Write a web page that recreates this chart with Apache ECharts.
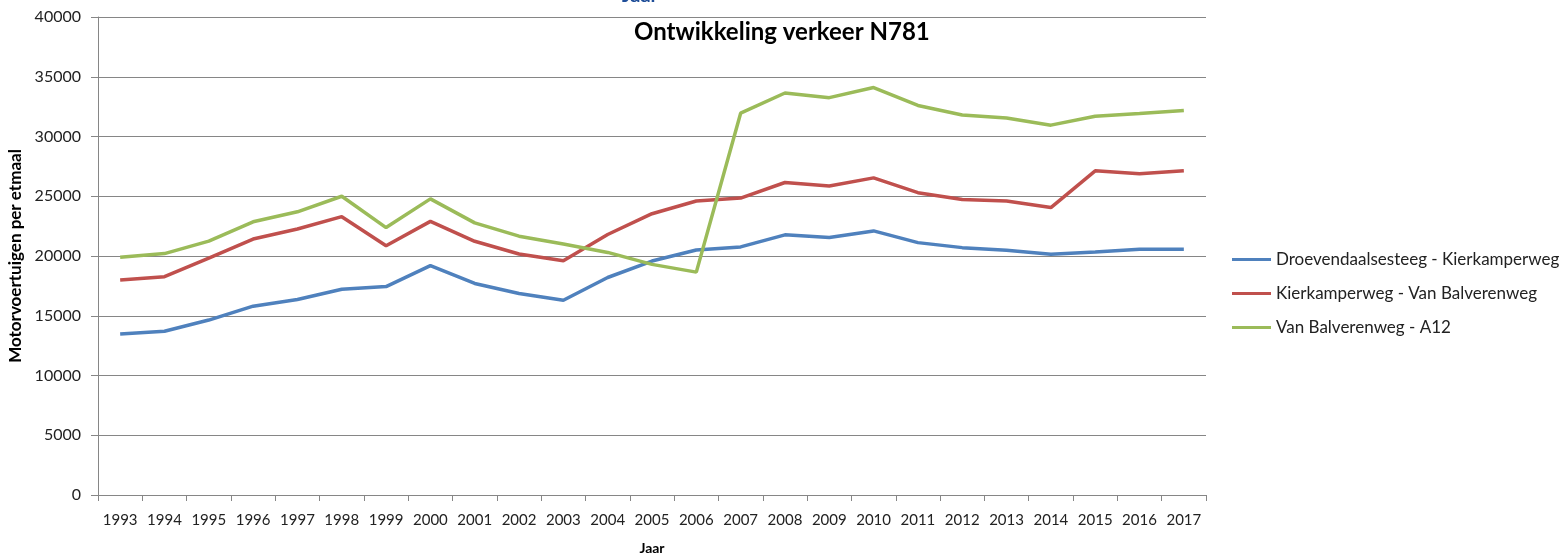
<!DOCTYPE html>
<html>
<head>
<meta charset="utf-8">
<title>Ontwikkeling verkeer N781</title>
<script src="https://cdn.jsdelivr.net/npm/echarts@6/dist/echarts.min.js"></script>
<style>
    html, body { margin: 0; padding: 0; background: #fff; }
    #chart { width: 1564px; height: 555px; }
</style>
</head>
<body>
<div id="chart"></div>
<script>
// jaren op de x-as
const years = ['1993', '1994', '1995', '1996', '1997', '1998', '1999', '2000', '2001', '2002', '2003', '2004', '2005',
    '2006', '2007', '2008', '2009', '2010', '2011', '2012', '2013', '2014', '2015', '2016', '2017'];

// motorvoertuigen per etmaal, per wegvak
const droevendaal = [13480, 13700, 14640, 15800, 16360, 17220, 17440, 19200, 17700, 16860, 16300, 18200, 19580,
    20500, 20760, 21770, 21550, 22100, 21120, 20700, 20480, 20140, 20340, 20560, 20560];
const kierkamper = [18000, 18270, 19830, 21420, 22260, 23290, 20860, 22900, 21230, 20170, 19610, 21800, 23540,
    24600, 24850, 26150, 25850, 26540, 25300, 24720, 24600, 24050, 27130, 26880, 27130];
const balveren = [19890, 20200, 21240, 22860, 23700, 25000, 22380, 24780, 22770, 21660, 21000, 20300, 19300,
    18650, 31950, 33640, 33250, 34100, 32600, 31800, 31550, 30950, 31690, 31920, 32170];

const seriesNames = ['Droevendaalsesteeg - Kierkamperweg', 'Kierkamperweg - Van Balverenweg', 'Van Balverenweg - A12'];
const seriesColors = ['#4f81bd', '#c0504d', '#9bbb59'];
const seriesData = [droevendaal, kierkamper, balveren];

const font = 'Lato, "Open Sans", sans-serif';

const chart = echarts.init(document.getElementById('chart'));
chart.setOption({
    animation: false,
    textStyle: { fontFamily: font },
    title: {
        text: 'Ontwikkeling verkeer N781',
        left: 629,
        top: 15,
        textStyle: { fontSize: 24, fontWeight: 'bold', color: '#000', fontFamily: font }
    },
    graphic: [{
        type: 'text',
        left: 622,
        top: -14,
        style: { text: 'Jaar', fontSize: 20, fontWeight: 'bold', fill: '#1f4e99', fontFamily: font }
    }],
    legend: {
        orient: 'vertical',
        left: 1227,
        top: 246,
        icon: 'rect',
        itemWidth: 39,
        itemHeight: 3,
        itemGap: 17,
        textStyle: { fontSize: 17, color: '#222', fontFamily: font },
        data: seriesNames
    },
    grid: {
        left: 98,
        right: 358,
        top: 17,
        bottom: 60,
        outerBoundsMode: 'none'
    },
    xAxis: {
        type: 'category',
        data: years,
        boundaryGap: true,
        name: 'Jaar',
        nameLocation: 'middle',
        nameGap: 46,
        nameTextStyle: { fontSize: 14, fontWeight: 'bold', color: '#000' },
        axisLine: { lineStyle: { color: '#868686', width: 1 } },
        axisTick: { show: true, length: 6, lineStyle: { color: '#868686' } },
        axisLabel: { fontSize: 15, color: '#222', margin: 18, interval: 0 }
    },
    yAxis: {
        type: 'value',
        min: 0,
        max: 40000,
        interval: 5000,
        name: 'Motorvoertuigen per etmaal',
        nameLocation: 'middle',
        nameGap: 74,
        nameRotate: 90,
        nameTextStyle: { fontSize: 17, fontWeight: 'bold', color: '#000' },
        axisLine: { show: true, lineStyle: { color: '#868686', width: 1 } },
        axisTick: { show: true, length: 7, lineStyle: { color: '#868686' } },
        axisLabel: {
            fontSize: 16,
            color: '#222',
            margin: 17,
            formatter: function (v) { return String(v); }
        },
        splitLine: { lineStyle: { color: '#868686', width: 1 } }
    },
    series: seriesNames.map(function (name, i) {
        return {
            name: name,
            type: 'line',
            data: seriesData[i],
            showSymbol: false,
            symbol: 'none',
            lineStyle: { width: 3.5, color: seriesColors[i] },
            itemStyle: { color: seriesColors[i] }
        };
    })
});
</script>
</body>
</html>
